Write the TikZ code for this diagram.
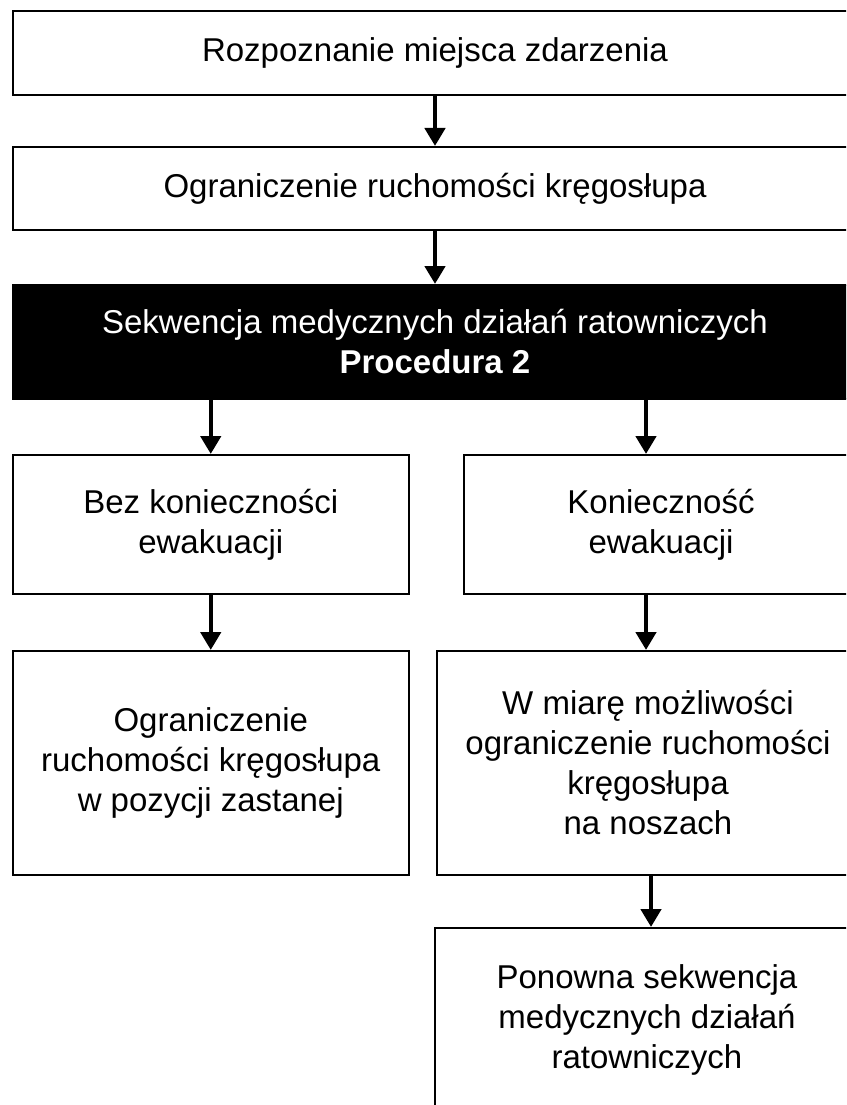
\documentclass[tikz,border=0pt]{standalone}
\usepackage{fontspec}
\setmainfont{Liberation Sans}
\usetikzlibrary{arrows.meta}
\begin{document}
\begin{tikzpicture}[x=1pt,y=-1pt,
  box/.style={draw=black, line width=2pt, fill=white, inner sep=0pt,
    align=center, font=\fontsize{33}{40}\selectfont},
  darkbox/.style={box, fill=black, text=white},
  flow/.style={line width=4.5pt, -{Triangle[length=18pt,width=20pt]}}]
\useasboundingbox (0,0) rectangle (846,1105);
\clip (0,0) rectangle (846,1105);
\fill[white] (0,0) rectangle (846,1105);

% main column
\node[box, minimum width=844pt, minimum height=84pt] (b1) at (435,53)
  {Rozpoznanie miejsca zdarzenia};
\node[box, minimum width=844pt, minimum height=83pt] (b2) at (435,188.5)
  {Ograniczenie ruchomości kręgosłupa};
\node[darkbox, minimum width=844pt, minimum height=114pt] (b3) at (435,342)
  {Sekwencja medycznych działań ratowniczych\\\textbf{Procedura 2}};

% left branch
\node[box, minimum width=395.5pt, minimum height=139pt] (l1) at (210.75,524.5)
  {Bez konieczności\\ewakuacji};
\node[box, minimum width=395.5pt, minimum height=224pt] (l2) at (210.75,763)
  {Ograniczenie\\ruchomości kręgosłupa\\w pozycji zastanej};

% right branch
\node[box, minimum width=394pt, minimum height=139pt] (r1) at (661,524.5)
  {Konieczność\\ewakuacji};
\node[box, minimum width=422pt, minimum height=224pt] (r2) at (648,763)
  {W miarę możliwości\\ograniczenie ruchomości\\kręgosłupa\\na noszach};
\node[box, minimum width=424pt, minimum height=184pt] (r3) at (647,1020)
  {Ponowna sekwencja\\medycznych działań\\ratowniczych};

% connectors
\draw[flow] (b1.south) -- (b2.north);
\draw[flow] (b2.south) -- (b3.north);
\draw[flow] (b3.south -| l1.north) -- (l1.north);
\draw[flow] ([xshift=-2pt]b3.south -| r2.north) -- ([xshift=-2pt]r1.north -| r2.north);
\draw[flow] (l1.south) -- (l2.north);
\draw[flow] ([xshift=-2pt]r1.south -| r2.north) -- ([xshift=-2pt]r2.north);
\draw[flow] ([xshift=3pt]r2.south) -- ([xshift=3pt]r2.south |- r3.north);
\end{tikzpicture}
\end{document}
